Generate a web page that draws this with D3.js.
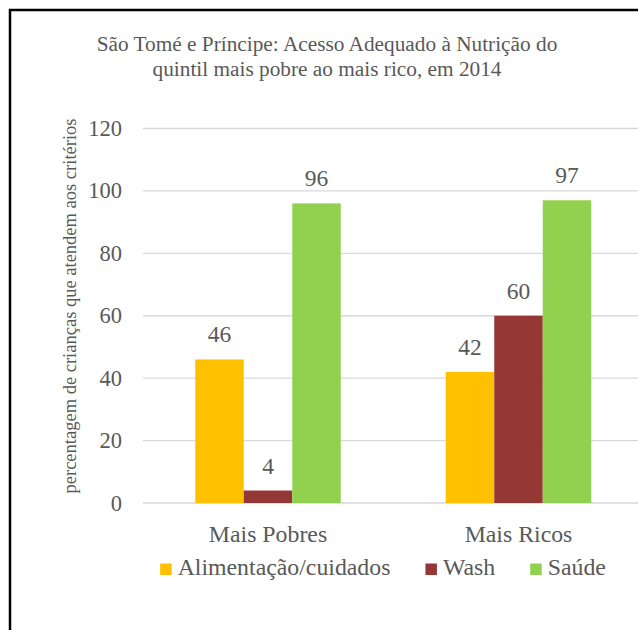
<!DOCTYPE html>
<html>
<head>
<meta charset="utf-8">
<script src="https://cdn.jsdelivr.net/npm/d3@7"></script>
<style>
  html, body { margin: 0; padding: 0; background: #fff; }
  svg { display: block; }
</style>
</head>
<body>
<svg id="chart" width="638" height="630"></svg>
<script>
const titleLines = ["São Tomé e Príncipe: Acesso Adequado à Nutrição do", "quintil mais pobre ao mais rico, em 2014"];
const yAxisTitle = "percentagem de crianças que atendem aos critérios";
const categories = ["Mais Pobres", "Mais Ricos"];
const seriesNames = ["Alimentação/cuidados", "Wash", "Saúde"];
const seriesColors = ["#FFC000", "#953735", "#92D050"];
const alimentacao = [46, 42];
const wash = [4, 60];
const saude = [96, 97];
const yTicks = [0, 20, 40, 60, 80, 100, 120];

const seriesValues = [alimentacao, wash, saude];
const FONT = "'Liberation Serif', 'Times New Roman', Tinos, 'DejaVu Serif', serif";
const TEXT = "#595959";

const svg = d3.select("#chart");

// frame
svg.append("rect")
  .attr("x", 10).attr("y", 10)
  .attr("width", 700).attr("height", 700)
  .attr("fill", "none").attr("stroke", "#000").attr("stroke-width", 2.5);

function txt(sel) {
  return sel.attr("font-family", FONT).attr("fill", TEXT);
}

// title
const title = txt(svg.append("text"))
  .attr("text-anchor", "middle")
  .attr("font-size", 21.3);
titleLines.forEach((t, i) => {
  title.append("tspan").attr("x", 327).attr("y", 51 + i * 25).text(t);
});

const y = d3.scaleLinear().domain([0, 120]).range([503, 128.5]);
const x0 = d3.scaleBand().domain(categories).range([142.75, 643.75]).paddingInner(0).paddingOuter(0);
const x1 = d3.scaleBand().domain(seriesNames).range([0, x0.bandwidth()]).paddingInner(0).paddingOuter(1.082);

// gridlines
svg.append("g").selectAll("line").data(yTicks).join("line")
  .attr("x1", 143).attr("x2", 645)
  .attr("y1", d => y(d)).attr("y2", d => y(d))
  .attr("stroke", "#D9D9D9").attr("stroke-width", 1.3);

// y tick labels
txt(svg.append("g").selectAll("text").data(yTicks).join("text"))
  .attr("x", 122).attr("y", d => y(d))
  .attr("text-anchor", "end")
  .attr("dominant-baseline", "central")
  .attr("font-size", 22.5)
  .text(d => d);

// y axis title
txt(svg.append("text"))
  .attr("transform", "translate(76,306) rotate(-90)")
  .attr("text-anchor", "middle")
  .attr("font-size", 18.5)
  .text(yAxisTitle);

// bars
const rows = [];
categories.forEach((c, ci) => {
  seriesNames.forEach((s, si) => {
    rows.push({ cat: c, series: s, value: seriesValues[si][ci], color: seriesColors[si] });
  });
});

svg.append("g").selectAll("rect").data(rows).join("rect")
  .attr("x", d => x0(d.cat) + x1(d.series))
  .attr("y", d => y(d.value))
  .attr("width", x1.bandwidth())
  .attr("height", d => y(0) - y(d.value))
  .attr("fill", d => d.color);

// data labels
txt(svg.append("g").selectAll("text").data(rows).join("text"))
  .attr("x", d => x0(d.cat) + x1(d.series) + x1.bandwidth() / 2)
  .attr("y", d => y(d.value) - 17)
  .attr("text-anchor", "middle")
  .attr("font-size", 23.5)
  .text(d => d.value);

// category labels
txt(svg.append("g").selectAll("text").data(categories).join("text"))
  .attr("x", d => x0(d) + x0.bandwidth() / 2)
  .attr("y", 542)
  .attr("text-anchor", "middle")
  .attr("font-size", 23.8)
  .text(d => d);

// legend
const legend = svg.append("g");
const items = legend.selectAll("g").data(seriesNames).join("g");
items.append("rect")
  .attr("width", 11.5).attr("height", 11.5)
  .attr("y", 563.5)
  .attr("fill", (d, i) => seriesColors[i]);
txt(items.append("text"))
  .attr("x", 17.5).attr("y", 575)
  .attr("font-size", 23.8)
  .text(d => d);
let offs = [];
let cur = 0;
items.each(function(d) {
  const w = d3.select(this).select("text").node().getComputedTextLength();
  offs.push(cur);
  cur += 17.5 + w + 35;
});
const total = cur - 35;
const start = 383 - total / 2;
items.attr("transform", (d, i) => `translate(${start + offs[i]},0)`);
</script>
</body>
</html>
